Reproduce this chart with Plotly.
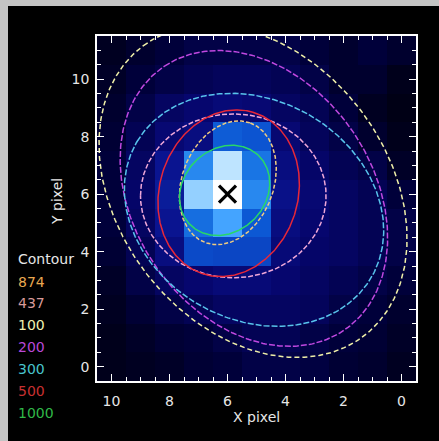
import numpy as np
import plotly.graph_objects as go

# ---------------- data ----------------
x_pix = list(range(0, 11))          # X pixel (0..10)
y_pix = list(range(0, 12))          # Y pixel (0..11)

# counts image, rows = Y pixel 0..11, cols = X pixel 0..10
image = [
    [4, 6, 7, 9, 10, 10, 8, 7, 5, 4, 3],         # y=0
    [5, 7, 8, 10, 12, 12, 10, 8, 7, 5, 3],       # y=1
    [6, 8, 10, 13, 14, 14, 14, 12, 10, 7, 4],    # y=2
    [8, 10, 12, 14, 16, 18, 18, 16, 14, 10, 5],  # y=3
    [10, 12, 14, 15, 18, 37, 37, 38, 20, 12, 7],  # y=4
    [10, 12, 14, 16, 20, 42, 62, 48, 24, 14, 8],  # y=5
    [8, 12, 14, 17, 22, 55, 100, 75, 26, 15, 8],  # y=6
    [5, 10, 12, 15, 20, 50, 85, 55, 24, 14, 8],   # y=7
    [3, 6, 10, 13, 17, 41, 43, 20, 17, 12, 7],    # y=8
    [2, 4, 8, 12, 14, 17, 18, 16, 14, 10, 6],     # y=9
    [3, 6, 6, 10, 12, 13, 13, 12, 10, 8, 5],      # y=10
    [6, 8, 6, 8, 10, 10, 10, 10, 8, 6, 4],        # y=11
]

# contour ellipses (legend order)
levels     = ["874", "437", "100", "200", "300", "500", "1000"]
ell_cx     = [5.99, 5.80, 5.12, 5.09, 5.085, 5.96, 6.10]
ell_cy     = [6.395, 5.94, 6.10, 5.85, 5.455, 6.03, 6.13]
ell_a      = [2.22, 3.20, 6.32, 5.54, 4.68, 2.94, 1.685]
ell_b      = [1.58, 2.85, 4.66, 4.13, 3.81, 2.39, 1.43]
ell_theta  = [110.5, 0.0, 53.3, 56.2, 30.5, 106.5, 133.6]

peak_x = [6]
peak_y = [6]

x_ticks = [10, 8, 6, 4, 2, 0]
y_ticks = [0, 2, 4, 6, 8, 10]

# ---------------- styles ----------------
ell_colors = ["#f0cc80", "#f0a8d8", "#f0f0a8", "#c048e0", "#58c4ec", "#e82838", "#28d868"]
leg_colors = ["#e8a850", "#d89a9a", "#f0f0b0", "#b848d8", "#48c4cc", "#c83030", "#30b848"]
ell_dash   = ["4px,2px", "5px,2px", "5px,3px", "6px,2px", "6px,2px", "solid", "solid"]

W, H = 439, 441
L, R, T, B = 97, 23, 36, 60
pw, ph = W - L - R, H - T - B

def px2x(px):
    return (px - L) / pw

def py2y(py):
    return (H - B - py) / ph

colorscale = [
    [0.00, "#000008"],
    [0.08, "#00003a"],
    [0.16, "#06066e"],
    [0.24, "#0a1490"],
    [0.33, "#0a38b8"],
    [0.42, "#0c58d4"],
    [0.52, "#1c7ce8"],
    [0.62, "#44a4ff"],
    [0.75, "#94d0ff"],
    [0.85, "#bee4ff"],
    [1.00, "#ffffff"],
]

fig = go.Figure()
fig.add_trace(go.Heatmap(
    x=x_pix, y=y_pix, z=image, colorscale=colorscale, zmin=0, zmax=100,
    showscale=False, hoverinfo="skip",
))

t = np.linspace(0, 2 * np.pi, 361)
for i in range(len(levels)):
    th = np.deg2rad(ell_theta[i])
    ex = ell_cx[i] + ell_a[i] * np.cos(th) * np.cos(t) - ell_b[i] * np.sin(th) * np.sin(t)
    ey = ell_cy[i] + ell_a[i] * np.sin(th) * np.cos(t) + ell_b[i] * np.cos(th) * np.sin(t)
    fig.add_trace(go.Scatter(
        x=ex, y=ey, mode="lines", name=levels[i],
        line=dict(color=ell_colors[i], width=1.5, dash=ell_dash[i]),
        showlegend=False, hoverinfo="skip",
    ))

fig.add_trace(go.Scatter(
    x=peak_x, y=peak_y, mode="markers", showlegend=False,
    marker=dict(symbol="x-thin", size=17, line=dict(color="black", width=3.2), color="black"),
))

axis_common = dict(
    showgrid=False, zeroline=False, showline=True, linecolor="white", linewidth=1.5,
    mirror="allticks", ticks="inside", ticklen=7, tickwidth=1, tickcolor="white",
    tickfont=dict(family="DejaVu Sans", size=14, color="#e6e6e6"),
    minor=dict(dtick=0.5, tick0=0, ticks="inside", ticklen=4, tickcolor="white", tickwidth=1),
)

fig.update_xaxes(range=[10.5, -0.5], tickvals=x_ticks, ticktext=[str(v) for v in x_ticks],
                 ticklabelstandoff=6, **axis_common)
fig.update_yaxes(range=[-0.5, 11.5], tickvals=y_ticks, ticktext=[str(v) for v in y_ticks],
                 ticklabelstandoff=3, **axis_common)

shapes = [dict(type="rect", xref="paper", yref="paper", layer="below",
               x0=px2x(8), x1=px2x(440), y0=py2y(441), y1=py2y(6),
               fillcolor="black", line=dict(width=0))]

annos = [
    dict(text="X pixel", x=px2x(256), y=py2y(417), xref="paper", yref="paper",
         showarrow=False, font=dict(family="DejaVu Sans", size=14, color="#e6e6e6"),
         xanchor="center", yanchor="middle"),
    dict(text="Y pixel", x=px2x(57), y=py2y(202), xref="paper", yref="paper",
         showarrow=False, textangle=-90, font=dict(family="DejaVu Sans", size=14, color="#e6e6e6"),
         xanchor="center", yanchor="middle"),
    dict(text="Contour", x=px2x(16), y=py2y(259), xref="paper", yref="paper",
         showarrow=False, font=dict(family="DejaVu Sans", size=14, color="#e6e6e6"),
         xanchor="left", yanchor="middle"),
]
leg_py = [282, 303, 325, 347, 369, 391, 413]
for i, lv in enumerate(levels):
    annos.append(dict(text=lv, x=px2x(16), y=py2y(leg_py[i]), xref="paper", yref="paper",
                      showarrow=False, font=dict(family="DejaVu Sans", size=14, color=leg_colors[i]),
                      xanchor="left", yanchor="middle"))

fig.update_layout(
    width=W, height=H, margin=dict(l=L, r=R, t=T, b=B),
    paper_bgcolor="#c4c4c4", plot_bgcolor="black",
    shapes=shapes, annotations=annos, showlegend=False,
)

fig.write_html(
    "out.html",
    config={"displayModeBar": False},
    post_script="document.body.style.margin='0px';document.body.style.background='#c4c4c4';",
)
